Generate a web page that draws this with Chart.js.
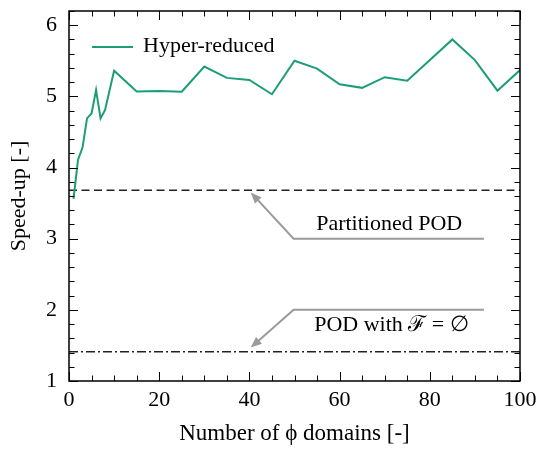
<!DOCTYPE html>
<html><head><meta charset="utf-8">
<script src="https://cdn.jsdelivr.net/npm/chart.js@4"></script>
<style>html,body{margin:0;padding:0;background:#fff}</style>
</head><body>
<canvas id="c" width="537" height="449"></canvas>
<script>
// ---- data ----
const domains = [1, 2, 3, 4, 5, 6, 7, 8, 10, 15, 20, 25, 30, 35, 40, 45, 50, 55, 60, 65, 70, 75, 85, 90, 95, 100];
const speedup = [3.56, 4.11, 4.28, 4.69, 4.76, 5.09, 4.69, 4.81, 5.36, 5.07, 5.075, 5.066, 5.42, 5.26, 5.23, 5.03, 5.50, 5.39, 5.17, 5.12, 5.27, 5.22, 5.80, 5.51, 5.08, 5.37];
const partitionedPOD = 3.68;
const podEmptyF = 1.41;
const xLimits = [0, 100];
const yLimits = [1, 6.2];
const xMajorTicks = [0, 20, 40, 60, 80, 100];
const xMinorTicks = [5, 10, 15, 25, 30, 35, 45, 50, 55, 65, 70, 75, 85, 90, 95];
const yMajorTicks = [1, 2, 3, 4, 5, 6];
const yMinorTicks = [1.2, 1.4, 1.6, 1.8, 2.2, 2.4, 2.6, 2.8, 3.2, 3.4, 3.6, 3.8, 4.2, 4.4, 4.6, 4.8, 5.2, 5.4, 5.6, 5.8, 6.2];
const seriesLabel = 'Hyper-reduced';
const xTitle = 'Number of \u03D5 domains [-]';
const yTitle = 'Speed-up [-]';
// annotation: label, label position (data), polyline path ending at arrow tip (data)
const annLabels = ['Partitioned POD', 'POD with \u2131 = \u2205'];
const annLabelPos = [[71, 3.21], [71.5, 1.79]];
const annPaths = [
  [[92, 3.0], [49.8, 3.0], [40.3, 3.65]],
  [[92, 2.0], [49.8, 2.0], [40.3, 1.47]]
];

const FONT = '"Liberation Serif", "DejaVu Serif", serif';
const GREEN = '#1b9e77';
const GREY = '#9a9a9a';

const overlay = {
  id: 'overlay',
  afterDatasetsDraw(chart) {
    const {ctx, chartArea: a, scales: {x, y}} = chart;
    ctx.save();
    ctx.strokeStyle = '#000';
    ctx.lineWidth = 1.5;
    ctx.strokeRect(a.left, a.top, a.right - a.left, a.bottom - a.top);
    ctx.lineWidth = 1;
    const xt = (vals, len) => vals.forEach(v => {
      const p = Math.round(x.getPixelForValue(v)) + 0.5;
      ctx.beginPath();
      ctx.moveTo(p, a.bottom); ctx.lineTo(p, a.bottom - len);
      ctx.moveTo(p, a.top); ctx.lineTo(p, a.top + len);
      ctx.stroke();
    });
    const yt = (vals, len) => vals.forEach(v => {
      const p = Math.round(y.getPixelForValue(v)) + 0.5;
      ctx.beginPath();
      ctx.moveTo(a.left, p); ctx.lineTo(a.left + len, p);
      ctx.moveTo(a.right, p); ctx.lineTo(a.right - len, p);
      ctx.stroke();
    });
    xt(xMajorTicks, 9); xt(xMinorTicks, 5.5);
    yt(yMajorTicks, 9); yt(yMinorTicks, 5.5);

    ctx.strokeStyle = GREY; ctx.fillStyle = GREY; ctx.lineWidth = 2;
    annPaths.forEach(path => {
      const pts = path.map(([vx, vy]) => [x.getPixelForValue(vx), y.getPixelForValue(vy)]);
      const n = pts.length;
      const [tx, ty] = pts[n - 1], [px, py] = pts[n - 2];
      const ang = Math.atan2(ty - py, tx - px);
      const hl = 11, hw = 4.5;
      ctx.beginPath();
      ctx.moveTo(pts[0][0], pts[0][1]);
      for (let i = 1; i < n - 1; i++) ctx.lineTo(pts[i][0], pts[i][1]);
      ctx.lineTo(tx - Math.cos(ang) * hl * 0.8, ty - Math.sin(ang) * hl * 0.8);
      ctx.stroke();
      ctx.beginPath();
      ctx.moveTo(tx, ty);
      ctx.lineTo(tx - hl * Math.cos(ang) + hw * Math.sin(ang), ty - hl * Math.sin(ang) - hw * Math.cos(ang));
      ctx.lineTo(tx - hl * Math.cos(ang) - hw * Math.sin(ang), ty - hl * Math.sin(ang) + hw * Math.cos(ang));
      ctx.closePath();
      ctx.fill();
    });
    ctx.fillStyle = '#000';
    ctx.font = '22px ' + FONT;
    ctx.textAlign = 'center'; ctx.textBaseline = 'middle';
    annLabels.forEach((t, i) => {
      ctx.fillText(t, x.getPixelForValue(annLabelPos[i][0]), y.getPixelForValue(annLabelPos[i][1]));
    });

    const ds = chart.data.datasets[0];
    ctx.strokeStyle = ds.borderColor; ctx.lineWidth = ds.borderWidth;
    ctx.beginPath(); ctx.moveTo(a.left + 23, a.top + 36); ctx.lineTo(a.left + 64, a.top + 36); ctx.stroke();
    ctx.textAlign = 'left';
    ctx.fillText(ds.label, a.left + 74, a.top + 35);
    ctx.restore();
  }
};

const noPad = s => { s.paddingLeft = 0; s.paddingRight = 0; s.paddingTop = 0; s.paddingBottom = 0; };

new Chart(document.getElementById('c'), {
  type: 'scatter',
  data: {
    datasets: [
      {
        label: seriesLabel,
        data: domains.map((d, i) => ({x: d, y: speedup[i]})),
        showLine: true, borderColor: GREEN, borderWidth: 2, pointRadius: 0, fill: false, tension: 0
      },
      {
        label: 'Partitioned POD',
        data: xLimits.map(v => ({x: v, y: partitionedPOD})),
        showLine: true, borderColor: '#222', borderWidth: 1.5, borderDash: [8, 4.5], pointRadius: 0
      },
      {
        label: 'POD with F = empty',
        data: xLimits.map(v => ({x: v, y: podEmptyF})),
        showLine: true, borderColor: '#222', borderWidth: 1.5, borderDash: [9, 3, 2, 3], pointRadius: 0
      }
    ]
  },
  options: {
    responsive: false, animation: false, devicePixelRatio: 1,
    layout: {padding: {left: 0, right: 17, top: 11, bottom: 0}},
    plugins: {legend: {display: false}, tooltip: {enabled: false}},
    scales: {
      x: {
        type: 'linear', min: xLimits[0], max: xLimits[1],
        grid: {display: false, drawTicks: false}, border: {display: false},
        afterBuildTicks: s => { s.ticks = xMajorTicks.map(v => ({value: v})); },
        afterFit: s => { s.height = 68; noPad(s); },
        ticks: {autoSkip: false, maxRotation: 0, padding: 6, color: '#000', font: {family: FONT, size: 22}},
        title: {display: true, text: xTitle, color: '#000', font: {family: FONT, size: 23}, padding: {top: 0, bottom: 1}}
      },
      y: {
        type: 'linear', min: yLimits[0], max: yLimits[1],
        grid: {display: false, drawTicks: false}, border: {display: false},
        afterBuildTicks: s => { s.ticks = yMajorTicks.map(v => ({value: v})); },
        afterFit: s => { s.width = 69; noPad(s); },
        ticks: {autoSkip: false, padding: 12, color: '#000', font: {family: FONT, size: 22}},
        title: {display: true, text: yTitle, color: '#000', font: {family: FONT, size: 22}, padding: {top: 6, bottom: 0}}
      }
    }
  },
  plugins: [overlay]
});
</script>
</body></html>
